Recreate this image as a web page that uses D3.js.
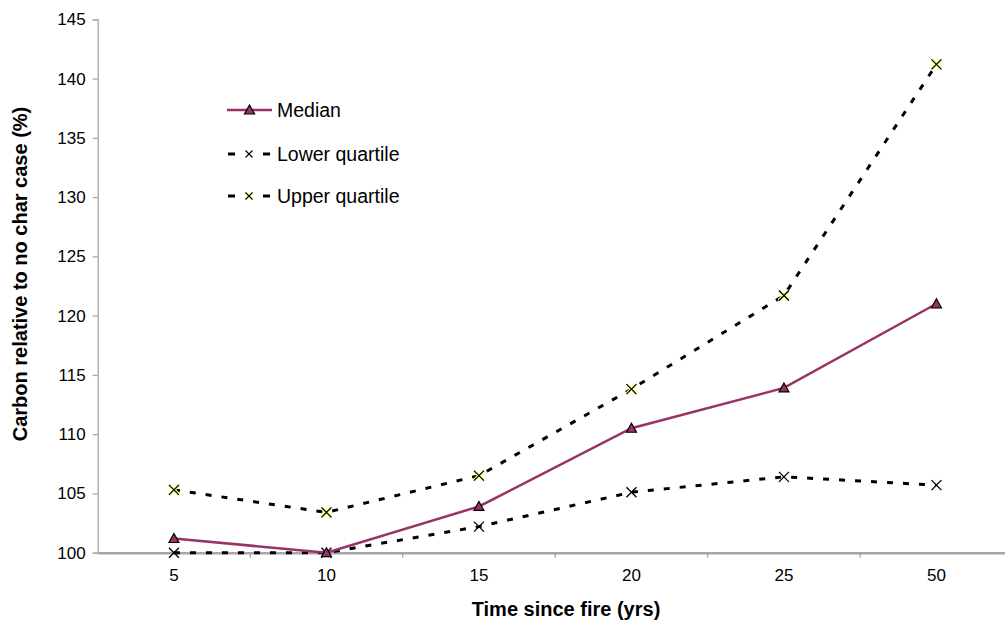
<!DOCTYPE html>
<html><head><meta charset="utf-8">
<script src="https://cdn.jsdelivr.net/npm/d3@7"></script>
<style>body{margin:0;background:#fff}svg{display:block}text{font-family:"Liberation Sans",Arial,sans-serif}</style>
</head><body><svg id="c" width="1005" height="624"></svg>
<script>
const categories = ["5","10","15","20","25","50"];
const median = [101.2, 100.0, 103.9, 110.5, 113.9, 121.0];
const lowerQ = [100.0, 100.0, 102.2, 105.1, 106.4, 105.7];
const upperQ = [105.3, 103.4, 106.5, 113.8, 121.7, 141.2];
const yTicks = [100,105,110,115,120,125,130,135,140,145];
const seriesNames = ["Median","Lower quartile","Upper quartile"];

const svg = d3.select("#c");
const L = 97.7, T = 19.3, W = 915, B = 552.7;
const x = d3.scaleBand().domain(categories).range([L, L+W]);
const y = d3.scaleLinear().domain([100,145]).range([B, T]);
const axisCol = "#a6a6a6";

// Y axis
const ya = svg.append("g").attr("transform",`translate(${L},0)`)
  .call(d3.axisLeft(y).tickValues(yTicks).tickSize(5).tickPadding(7));
ya.select(".domain").attr("stroke",axisCol).attr("stroke-width",1.3);
ya.selectAll(".tick line").attr("stroke",axisCol).attr("stroke-width",1.3);
ya.selectAll("text").attr("font-size",17).attr("fill","#000").attr("font-family","Liberation Sans, Arial");

// X axis
const xa = svg.append("g").attr("transform",`translate(0,${B})`)
  .call(d3.axisBottom(x).tickSize(0).tickPadding(16));
xa.select(".domain").attr("stroke",axisCol).attr("stroke-width",2.5);
xa.selectAll("text").attr("font-size",17).attr("fill","#000").attr("font-family","Liberation Sans, Arial");
xa.selectAll(".sep").data(categories.slice(1)).enter().append("line")
  .attr("x1",d=>x(d)).attr("x2",d=>x(d)).attr("y1",0).attr("y2",5)
  .attr("stroke",axisCol).attr("stroke-width",1.3);

const cx = d => x(d) + x.bandwidth()/2;
const line = arr => d3.line().x((d,i)=>cx(categories[i])).y(d=>y(d))(arr);

const purple = "#993366";
svg.append("path").attr("d",line(upperQ)).attr("fill","none").attr("stroke","#000").attr("stroke-width",3).attr("stroke-dasharray","6,10");
svg.append("path").attr("d",line(lowerQ)).attr("fill","none").attr("stroke","#000").attr("stroke-width",3).attr("stroke-dasharray","6,10");
svg.append("path").attr("d",line(median)).attr("fill","none").attr("stroke",purple).attr("stroke-width",2.5);

function xMarker(g, px, py, yellow){
  const s = 5;
  const p = `M${px-s},${py-s}L${px+s},${py+s}M${px-s},${py+s}L${px+s},${py-s}`;
  if (yellow) g.append("path").attr("d",p).attr("stroke","#ffff99").attr("stroke-width",3.5).attr("fill","none");
  g.append("path").attr("d",p).attr("stroke","#000").attr("stroke-width",1.3).attr("fill","none");
}
function triMarker(g, px, py){
  const s = 5;
  g.append("path").attr("d",`M${px},${py-s}L${px+s},${py+s-1}L${px-s},${py+s-1}Z`)
    .attr("fill",purple).attr("stroke","#000").attr("stroke-width",1.2);
}
const mk = svg.append("g");
lowerQ.forEach((v,i)=>xMarker(mk, cx(categories[i]), y(v), false));
upperQ.forEach((v,i)=>xMarker(mk, cx(categories[i]), y(v), true));
median.forEach((v,i)=>triMarker(mk, cx(categories[i]), y(v)));

// legend
const lg = svg.append("g");
const ly = [110, 154, 196];
lg.append("line").attr("x1",227).attr("x2",272).attr("y1",ly[0]).attr("y2",ly[0]).attr("stroke",purple).attr("stroke-width",2.5);
triMarker(lg, 249.5, ly[0]);
[1,2].forEach(k=>{
  lg.append("line").attr("x1",228).attr("x2",235).attr("y1",ly[k]).attr("y2",ly[k]).attr("stroke","#000").attr("stroke-width",3);
  lg.append("line").attr("x1",263).attr("x2",270).attr("y1",ly[k]).attr("y2",ly[k]).attr("stroke","#000").attr("stroke-width",3);
  const s=3.5, px=249, py=ly[k];
  const p = `M${px-s},${py-s}L${px+s},${py+s}M${px-s},${py+s}L${px+s},${py-s}`;
  if (k===2) lg.append("path").attr("d",p).attr("stroke","#ffff99").attr("stroke-width",3).attr("fill","none");
  lg.append("path").attr("d",p).attr("stroke","#000").attr("stroke-width",1.1).attr("fill","none");
});
seriesNames.forEach((n,k)=>{
  lg.append("text").attr("x",277).attr("y",ly[k]).attr("dy","0.35em").attr("font-size",19.5).text(n);
});

// titles
svg.append("text").attr("x",566).attr("y",616).attr("text-anchor","middle")
  .attr("font-size",20).attr("font-weight","bold").text("Time since fire (yrs)");
svg.append("text").attr("transform","translate(27,274) rotate(-90)").attr("text-anchor","middle")
  .attr("font-size",20).attr("font-weight","bold").text("Carbon relative to no char case (%)");
</script></body></html>
